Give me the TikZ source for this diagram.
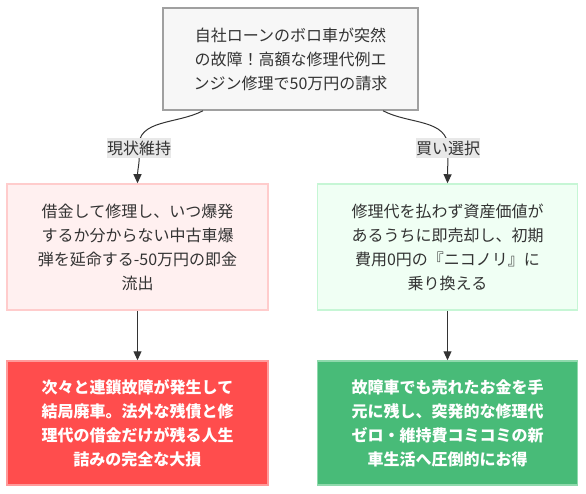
\documentclass[tikz,border=0pt]{standalone}
\usepackage{fontspec}
\setmainfont{Noto Sans CJK JP}
\usetikzlibrary{arrows.meta}
\definecolor{topfill}{HTML}{F7F7F7}
\definecolor{topline}{HTML}{A0A0A0}
\definecolor{pinkfill}{HTML}{FFF0F0}
\definecolor{pinkline}{HTML}{FFCCCC}
\definecolor{mintfill}{HTML}{F0FFF4}
\definecolor{mintline}{HTML}{C6F6D5}
\definecolor{redfill}{HTML}{FF4D4D}
\definecolor{redline}{HTML}{FF9A9A}
\definecolor{grnfill}{HTML}{48BB78}
\definecolor{grnline}{HTML}{8FD9AC}
\definecolor{txt}{HTML}{333333}
\definecolor{lblbg}{HTML}{E8E8E8}
\tikzset{
  box/.style={rectangle, align=center, line width=1.5pt, text=txt,
    font=\fontsize{16}{24}\selectfont, inner sep=0pt},
  lbl/.style={fill=lblbg, text=txt, font=\fontsize{16}{20}\selectfont,
    inner xsep=0pt, inner ysep=3pt},
  edge/.style={draw=txt, line width=1pt, -{Triangle[length=9pt,width=8pt]}}
}
\begin{document}
\begin{tikzpicture}[x=1pt,y=-1pt]
\useasboundingbox (0,0) rectangle (586,494);
\node[box, fill=topfill, draw=topline, minimum width=255pt, minimum height=102pt]
  (top) at (290.5,59) {自社ローンのボロ車が突然\\の故障！高額な修理代例エ\\ンジン修理で50万円の請求};
\node[box, fill=pinkfill, draw=pinkline, minimum width=261pt, minimum height=126pt]
  (ml) at (137.5,247) {借金して修理し、いつ爆発\\するか分からない中古車爆\\弾を延命する-50万円の即金\\流出};
\node[box, fill=mintfill, draw=mintline, minimum width=260pt, minimum height=126pt]
  (mr) at (447.5,247) {修理代を払わず資産価値が\\あるうちに即売却し、初期\\費用0円の『ニコノリ』に\\乗り換える};
\node[box, fill=redfill, draw=redline, text=white, minimum width=261pt, minimum height=124pt, font=\fontsize{16}{24}\selectfont\bfseries]
  (bl) at (137.5,423) {次々と連鎖故障が発生して\\結局廃車。法外な残債と修\\理代の借金だけが残る人生\\詰みの完全な大損};
\node[box, fill=grnfill, draw=grnline, text=white, minimum width=260pt, minimum height=124pt, font=\fontsize{16}{24}\selectfont\bfseries]
  (br) at (447.5,423) {故障車でも売れたお金を手\\元に残し、突発的な修理代\\ゼロ・維持費コミコミの新\\車生活へ圧倒的にお得};
\coordinate (l1) at (139,148);
\coordinate (l2) at (448,148);
\draw[edge] ([xshift=-87.5pt]top.south) to[out=-152,in=95] (l1) to[out=-85,in=90] (ml.north);
\draw[edge] ([xshift=92.5pt]top.south) to[out=-28,in=90] (l2) -- (mr.north);
\node[lbl] (lab1) at (l1) {現状維持};
\node[lbl] (lab2) at (l2) {買い選択};
\draw[edge] (ml.south) -- (bl.north);
\draw[edge] (mr.south) -- (br.north);
\end{tikzpicture}
\end{document}
